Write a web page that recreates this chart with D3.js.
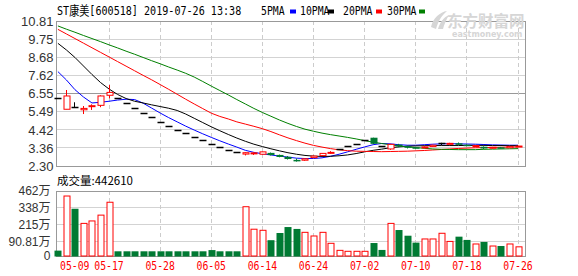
<!DOCTYPE html>
<html><head><meta charset="utf-8">
<script src="https://cdn.jsdelivr.net/npm/d3@7/dist/d3.min.js"></script>
<style>body{margin:0;background:#fff}svg{display:block}</style>
</head><body><svg id="c" width="578" height="276"></svg>
<script>
const dates = ["05-09","05-10","05-13","05-14","05-15","05-16","05-17","05-21","05-22","05-23","05-24","05-27","05-28","05-29","05-30","05-31","06-03","06-04","06-05","06-06","06-10","06-11","06-12","06-13","06-14","06-17","06-18","06-19","06-20","06-21","06-24","06-25","06-26","06-27","06-28","07-01","07-02","07-03","07-04","07-05","07-08","07-09","07-10","07-11","07-12","07-15","07-16","07-17","07-18","07-19","07-22","07-23","07-24","07-25","07-26"];
const openP  = [6.27,5.63,5.75,5.60,5.82,5.86,6.45,6.29,5.98,5.68,5.40,5.13,4.87,4.63,4.40,4.18,3.97,3.77,3.58,3.40,3.23,3.07,3.00,3.04,2.99,3.07,2.95,2.84,2.66,2.64,2.79,2.91,3.08,3.26,3.42,3.59,3.77,3.96,3.42,3.30,3.55,3.46,3.40,3.36,3.44,3.60,3.60,3.63,3.55,3.46,3.43,3.34,3.40,3.37,3.45];
const highP  = [6.27,6.76,6.04,5.82,5.92,6.45,7.05,6.29,5.98,5.68,5.40,5.13,4.87,4.63,4.40,4.18,3.97,3.77,3.58,3.40,3.23,3.07,3.10,3.10,3.15,3.09,2.97,2.88,2.74,2.76,2.92,3.06,3.17,3.26,3.42,3.59,3.77,3.96,3.42,3.60,3.60,3.50,3.43,3.45,3.55,3.66,3.66,3.68,3.57,3.52,3.45,3.42,3.42,3.47,3.49];
const lowP   = [6.27,5.63,5.75,5.35,5.59,5.75,6.27,6.29,5.98,5.68,5.40,5.13,4.87,4.63,4.40,4.18,3.97,3.77,3.58,3.40,3.23,3.07,2.92,2.95,2.97,2.92,2.81,2.68,2.56,2.60,2.77,2.89,3.01,3.26,3.42,3.59,3.77,3.58,3.42,3.25,3.40,3.33,3.33,3.33,3.42,3.52,3.58,3.55,3.45,3.44,3.30,3.32,3.34,3.35,3.43];
const closeP = [6.27,6.41,5.75,5.68,5.84,6.41,6.62,6.29,5.98,5.68,5.40,5.13,4.87,4.63,4.40,4.18,3.97,3.77,3.58,3.40,3.23,3.07,3.08,3.07,3.13,2.94,2.83,2.71,2.64,2.72,2.88,3.04,3.10,3.26,3.42,3.59,3.77,3.60,3.42,3.57,3.45,3.37,3.36,3.42,3.52,3.60,3.63,3.58,3.47,3.50,3.33,3.40,3.36,3.45,3.47];
const prevClose0 = 6.97;
const volume = [22,425,331,223,241,284,379,17,17,17,17,17,17,17,17,17,17,17,26,17,17,17,346,180,172,99,152,196,182,157,130,157,76,24,17,17,17,78,27,223,174,132,81,108,108,150,90,125,101,71,86,56,56,71,50];
const ma5  = [7.84,7.35,6.78,6.35,6.00,6.04,6.10,6.17,6.22,6.20,5.99,5.70,5.41,5.14,4.89,4.64,4.41,4.19,3.98,3.78,3.59,3.41,3.22,3.10,3.02,2.95,2.88,2.82,2.76,2.74,2.74,2.78,2.87,2.99,3.13,3.28,3.42,3.55,3.62,3.60,3.55,3.52,3.52,3.55,3.58,3.60,3.61,3.60,3.59,3.58,3.56,3.54,3.53,3.52,3.52];
const ma10 = [9.50,9.11,8.67,8.17,7.67,7.20,6.82,6.50,6.26,6.10,6.00,5.89,5.79,5.69,5.56,5.35,5.10,4.85,4.60,4.37,4.15,3.94,3.75,3.58,3.44,3.31,3.19,3.08,2.99,2.92,2.88,2.86,2.87,2.90,2.95,3.03,3.13,3.22,3.29,3.37,3.42,3.46,3.48,3.49,3.50,3.50,3.50,3.50,3.51,3.51,3.51,3.50,3.50,3.49,3.49];
const ma20 = [10.32,10.05,9.78,9.51,9.24,8.97,8.70,8.43,8.16,7.89,7.62,7.36,7.08,6.80,6.51,6.22,5.94,5.67,5.40,5.21,5.06,4.89,4.76,4.63,4.49,4.32,4.13,3.95,3.79,3.64,3.51,3.41,3.32,3.25,3.20,3.17,3.16,3.15,3.14,3.15,3.16,3.17,3.19,3.21,3.24,3.27,3.30,3.33,3.35,3.37,3.38,3.39,3.40,3.41,3.42];
const ma30 = [10.52,10.33,10.15,9.96,9.78,9.60,9.41,9.23,9.04,8.86,8.67,8.48,8.30,8.11,7.93,7.74,7.52,7.26,6.99,6.73,6.47,6.20,5.94,5.68,5.44,5.22,5.00,4.80,4.62,4.46,4.34,4.23,4.14,4.06,3.98,3.89,3.79,3.70,3.62,3.55,3.48,3.42,3.38,3.34,3.30,3.28,3.27,3.26,3.26,3.26,3.28,3.29,3.30,3.31,3.32];
const priceTicks = [2.30,3.36,4.42,5.49,6.55,7.62,8.68,9.75,10.81];
const volMin = -17.7, volMax = 462;
const volTicks = [volMin,90.81,215,338,462];
const volTickLabels = ["0","90.81万","215万","338万","462万"];
const labelDates = ["05-09","05-17","05-28","06-05","06-14","06-24","07-02","07-10","07-18","07-26"];
const maNames = ["5PMA","10PMA","20PMA","30PMA"];
const title = "ST康美[600518] 2019-07-26 13:38";
const volTitle = "成交量:442610";

const RED="#ff0000", GREEN="#007a33", BLUE="#0000ff", BLK="#000000", MAGREEN="#008000";
const maColors=[BLUE,BLK,RED,MAGREEN];
const svg=d3.select("#c");
const L=56.5,R=525.5,PT=21,PB=166,VT=191,VB=256;
const x=d3.scalePoint().domain(dates).range([57.9,518]);
const y=d3.scaleLinear().domain([2.30,10.81]).range([PB,PT]);
const yv=d3.scaleLinear().domain([volMin,volMax]).range([VB,VT]);
const snap=v=>Math.floor(v)+0.5;

function hgrid(scale,ticks,darkVal){
  svg.append("g").selectAll("line").data(ticks).join("line")
   .attr("x1",L).attr("x2",R)
   .attr("y1",d=>snap(scale(d))).attr("y2",d=>snap(scale(d)))
   .attr("stroke",d=>d===darkVal?"#999":"#d3d3d3").attr("stroke-width",1);
}
hgrid(y,priceTicks,6.55);
hgrid(yv,volTicks,null);
[[PT,PB],[VT,VB]].forEach(([a,b])=>{
  svg.append("g").selectAll("line").data(labelDates.slice(1)).join("line")
   .attr("x1",d=>snap(x(d))).attr("x2",d=>snap(x(d))).attr("y1",a).attr("y2",b)
   .attr("stroke","#ccc").attr("stroke-dasharray","4,3");
});
svg.append("rect").attr("x",L).attr("y",PT+0.5).attr("width",R-L).attr("height",PB-PT).attr("fill","none").attr("stroke","#999");
svg.append("rect").attr("x",L).attr("y",VT+0.5).attr("width",R-L).attr("height",VB-VT).attr("fill","none").attr("stroke","#999");

// watermark
const wm=svg.append("g").attr("fill","#d6d6d6");
wm.append("path").attr("d","M431,27 C433,18 440,12 447,11 C441,16 438,22 436,29 Z M438,29 C440,22 444,17 449,15 C446,20 444,25 443,29 Z");
wm.append("text").attr("x",447).attr("y",27).attr("font-family","Noto Sans CJK SC").attr("font-weight","bold").attr("font-size",15.5).text("东方财富网");
wm.append("text").attr("x",452).attr("y",37).attr("font-family","DejaVu Sans").attr("font-weight","bold").attr("font-size",8).text("eastmoney.com");

// MA lines
[ma5,ma10,ma20,ma30].forEach((arr,k)=>{
  svg.append("path").datum(arr).attr("fill","none").attr("stroke",maColors[k]).attr("stroke-width",1)
   .attr("d",d3.line().x((d,i)=>x(dates[i])).y(d=>y(d)));
});

// candles
const cg=svg.append("g");
dates.forEach((dt,i)=>{
  const cx=snap(x(dt)), o=openP[i], c=closeP[i], h=highP[i], l=lowP[i];
  const col = c>o?RED:(c<o?GREEN:BLK);
  cg.append("line").attr("x1",cx).attr("x2",cx).attr("y1",y(h)).attr("y2",y(l)).attr("stroke",col);
  if(c===o){
    cg.append("line").attr("x1",cx-3).attr("x2",cx+4).attr("y1",snap(y(c))).attr("y2",snap(y(c))).attr("stroke",col).attr("stroke-width",1.5);
  } else {
    const top=y(Math.max(o,c)), bot=y(Math.min(o,c));
    if(c>o) cg.append("rect").attr("x",cx-2.5).attr("y",top).attr("width",6).attr("height",Math.max(1,bot-top)).attr("fill","#fff").attr("stroke",col);
    else cg.append("rect").attr("x",cx-3).attr("y",top).attr("width",7).attr("height",Math.max(1.5,bot-top)).attr("fill",col);
  }
});
// volume
const vg=svg.append("g");
dates.forEach((dt,i)=>{
  const cx=snap(x(dt)), o=openP[i], c=closeP[i], pc=i?closeP[i-1]:prevClose0;
  const up = c>o || (c===o && c>=pc);
  const top=yv(volume[i]);
  if(up) vg.append("rect").attr("x",cx-2.5).attr("y",top).attr("width",6).attr("height",VB-top).attr("fill","#fff").attr("stroke",RED);
  else vg.append("rect").attr("x",cx-3).attr("y",top).attr("width",7).attr("height",VB-top+0.5).attr("fill",GREEN);
});

// axes
const ay=svg.append("g").attr("transform",`translate(${L},0)`).call(d3.axisLeft(y).tickValues(priceTicks).tickFormat(d3.format(".2f")).tickSize(0).tickPadding(3));
ay.select(".domain").remove();
ay.selectAll("text").attr("font-family","Liberation Sans, Arial").attr("font-size",13).attr("fill","#333");
const av=svg.append("g").attr("transform",`translate(${L-4},0)`).call(d3.axisLeft(yv).tickValues(volTicks).tickFormat((d,i)=>volTickLabels[i]).tickSize(0).tickPadding(2));
av.select(".domain").remove();
av.selectAll("text").attr("font-family","Liberation Sans, Noto Sans CJK SC").attr("font-size",12).attr("fill","#333");
const xl=svg.append("g");
labelDates.forEach((d,k)=>{
  const g=xl.append("g").attr("transform",`translate(${k===0?60:x(d)},270) scale(1,1.25)`);
  g.append("text").attr("text-anchor",k===0?"start":"middle").attr("font-family","DejaVu Sans Mono").attr("font-size",9.8).attr("fill",RED).text(d);
});

// header
svg.append("g").attr("transform","translate(57,15) scale(1,1.25)").append("text")
  .attr("font-family","DejaVu Sans Mono, Noto Sans CJK SC").attr("font-size",10.1).text(title);
const legX=[261,300,343,387], sqX=[290,328,376,419];
maNames.forEach((n,k)=>{
  svg.append("g").attr("transform",`translate(${legX[k]},15) scale(1,1.25)`).append("text")
    .attr("font-family","DejaVu Sans Mono").attr("font-size",9.8).text(n);
  svg.append("rect").attr("x",sqX[k]).attr("y",9.5).attr("width",6).attr("height",4).attr("fill",maColors[k]);
});
svg.append("text").attr("x",57).attr("y",184.5).attr("font-family","Noto Sans CJK SC").attr("font-size",11.5).text(volTitle);
</script></body></html>
